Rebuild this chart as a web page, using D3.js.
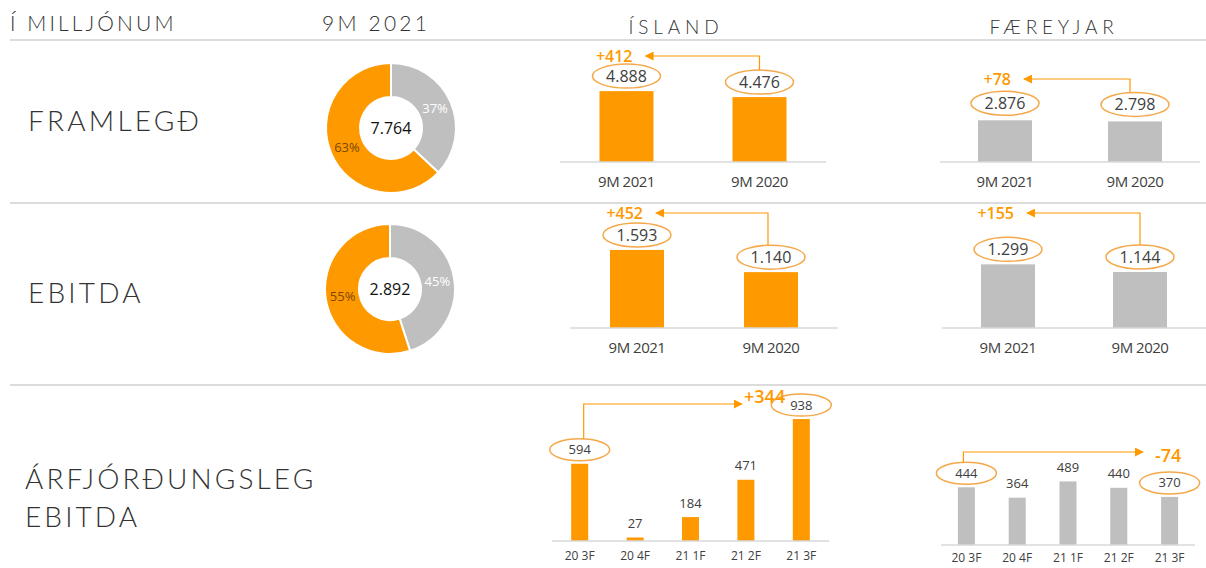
<!DOCTYPE html>
<html>
<head>
<meta charset="utf-8">
<script src="https://cdn.jsdelivr.net/npm/d3@7"></script>
<style>
  body { margin: 0; background: #fff; }
  text { font-family: "Open Sans", sans-serif; }
  .hdr { font-family: Lato, sans-serif; fill: #333; }
</style>
</head>
<body>
<script>
// values in millions ISK
var periods = ['9M 2021', '9M 2020'];
var framlegdIsland = [4888, 4476];
var framlegdFaereyjar = [2876, 2798];
var ebitdaIsland = [1593, 1140];
var ebitdaFaereyjar = [1299, 1144];

var quarters = ['20 3F', '20 4F', '21 1F', '21 2F', '21 3F'];
var quarterIsland = [594, 27, 184, 471, 938];
var quarterFaereyjar = [444, 364, 489, 440, 370];

var donutTotals = [7764, 2892];
var shareIsland = [63, 55];
var shareFaereyjar = [37, 45];

var deltaLabels = ['+412', '+78', '+452', '+155', '+344', '-74'];

var orange = '#ff9900', grey = '#bfbfbf', ring = '#f5a84a';

var width = 1206, height = 568;

var svg = d3.select('body')
    .append('svg')
    .attr('width', width)
    .attr('height', height);

var is = d3.formatLocale({decimal: ',', thousands: '.', grouping: [3], currency: ['', '']});
var fmt = is.format(',');

svg.append('defs').append('marker')
    .attr('id', 'arr')
    .attr('viewBox', '0 0 10 10')
    .attr('refX', 9).attr('refY', 5)
    .attr('markerWidth', 9).attr('markerHeight', 9)
    .attr('markerUnits', 'userSpaceOnUse')
    .attr('orient', 'auto')
    .append('path')
    .attr('d', 'M0,0L10,5L0,10Z')
    .attr('fill', orange);

// header + separators
[40, 203, 385].forEach(y => {
  svg.append('line')
    .attr('x1', 10).attr('x2', width).attr('y1', y).attr('y2', y)
    .attr('stroke', '#d0d0d0').attr('stroke-width', 1.5);
});

function hdr(t, x, y, size, spacing, anchor) {
  svg.append('text').attr('class', 'hdr')
    .attr('x', x).attr('y', y)
    .attr('font-size', size)
    .attr('font-weight', 300)
    .attr('letter-spacing', spacing)
    .attr('text-anchor', anchor || 'start')
    .text(t);
}
hdr('Í MILLJÓNUM', 10, 31, 21, 3.1);
hdr('9M 2021', 322, 31, 21, 3.2);
hdr('ÍSLAND', 676, 34, 19, 4.8, 'middle');
hdr('FÆREYJAR', 1054, 34, 19, 4.8, 'middle');
hdr('FRAMLEGÐ', 28, 131, 28, 3.2);
hdr('EBITDA', 28, 303, 28, 3.2);
hdr('ÁRFJÓRÐUNGSLEG', 25, 489, 28, 3.1);
hdr('EBITDA', 25, 527, 28, 3.1);

// donuts
var pie = d3.pie().sort(null).value(d => d);
var arc = d3.arc().innerRadius(31).outerRadius(65);

function donut(cx, cy, i) {
  var g = svg.append('g').attr('transform', `translate(${cx},${cy})`);
  var slices = pie([shareFaereyjar[i], shareIsland[i]]);
  g.selectAll('path').data(slices).join('path')
    .attr('d', arc)
    .attr('fill', (d, j) => j == 0 ? grey : orange)
    .attr('stroke', '#fff').attr('stroke-width', 2);
  g.selectAll('text.pct').data(slices).join('text')
    .attr('class', 'pct')
    .attr('transform', d => `translate(${arc.centroid(d)})`)
    .attr('dy', '0.35em')
    .attr('text-anchor', 'middle')
    .attr('font-size', 13)
    .attr('fill', (d, j) => j == 0 ? '#fff' : '#7a4700')
    .text(d => d.data + '%');
  g.append('text')
    .attr('text-anchor', 'middle').attr('dy', '0.35em')
    .attr('font-size', 16).attr('fill', '#111')
    .text(fmt(donutTotals[i]));
}
donut(391, 128, 0);
donut(390, 289, 1);

// bar panel helper
function panel(o) {
  var n = o.values.length;
  var step = (o.x1 - o.x0) / n;
  var pad = 1 - o.barW / step;
  var x = d3.scaleBand()
      .domain(o.cats)
      .range([o.x0, o.x1])
      .paddingInner(pad).paddingOuter(pad / 2);
  var y = d3.scaleLinear()
      .domain([0, o.max])
      .range([o.base, o.base - o.span]);

  var g = svg.append('g');

  g.selectAll('rect').data(o.values).join('rect')
    .attr('x', (d, i) => x(o.cats[i]))
    .attr('y', d => y(d))
    .attr('width', x.bandwidth())
    .attr('height', d => y(0) - y(d))
    .attr('fill', o.color);

  var axis = g.append('g')
    .attr('transform', `translate(0,${o.base})`)
    .call(d3.axisBottom(x).tickSize(0).tickPadding(o.tickPad));
  axis.select('.domain').attr('stroke', '#d9d9d9').attr('stroke-width', 1.5)
    .attr('d', `M${o.x0},0H${o.x1}`);
  axis.selectAll('text')
    .attr('font-family', '"Open Sans", sans-serif')
    .attr('font-size', o.tickSize).attr('fill', '#404040')
    .attr('letter-spacing', o.tickSpacing || 0);

  var cx = i => x(o.cats[i]) + x.bandwidth() / 2;
  var ly = i => y(o.values[i]) - o.lift;

  o.values.forEach((v, i) => {
    if (o.circled.indexOf(i) >= 0) {
      g.append('ellipse')
        .attr('cx', cx(i)).attr('cy', ly(i))
        .attr('rx', o.rx).attr('ry', o.ry)
        .attr('fill', '#fff').attr('stroke', ring).attr('stroke-width', 1.5);
    }
    g.append('text')
      .attr('x', cx(i)).attr('y', ly(i)).attr('dy', '0.35em')
      .attr('text-anchor', 'middle')
      .attr('font-size', o.valSize).attr('fill', '#404040')
      .text(fmt(v));
  });

  // change arrow between the circled labels
  var a = o.circled[0], b = o.circled[o.circled.length - 1];
  if (o.dir < 0) {
    var sx = cx(b) + o.stemOff, tip = cx(a) + 19;
    g.append('path')
      .attr('d', `M${sx},${ly(b) - o.ry}V${o.arrowY}H${tip}`)
      .attr('fill', 'none').attr('stroke', orange).attr('stroke-width', 1.2)
      .attr('marker-end', 'url(#arr)');
    g.append('text')
      .attr('x', tip - 13).attr('y', o.arrowY).attr('dy', '0.35em')
      .attr('text-anchor', 'end')
      .attr('font-size', o.deltaSize).attr('font-weight', 600).attr('fill', orange)
      .text(o.delta);
  } else {
    var sx2 = cx(a) + o.stemOff;
    g.append('path')
      .attr('d', `M${sx2},${ly(a) - o.ry}V${o.arrowY}H${o.tip}`)
      .attr('fill', 'none').attr('stroke', orange).attr('stroke-width', 1.2)
      .attr('marker-end', 'url(#arr)');
    g.append('text')
      .attr('x', o.tip + o.textGap).attr('y', o.arrowY + o.textDy)
      .attr('font-size', o.deltaSize).attr('font-weight', 600).attr('fill', orange)
      .text(o.delta);
  }
}

var pair = {cats: periods, barW: 54, rx: 34, ry: 12, lift: 15, valSize: 16, tickSize: 15,
  tickPad: 14, tickSpacing: -0.5, circled: [0, 1], dir: -1, deltaSize: 16};

panel(Object.assign({}, pair, {values: framlegdIsland, color: orange, x0: 560, x1: 826,
  base: 162, max: 5000, span: 72.5, arrowY: 56, stemOff: 0, delta: deltaLabels[0]}));
panel(Object.assign({}, pair, {values: framlegdFaereyjar, color: grey, x0: 940, x1: 1200,
  base: 162, max: 5000, span: 72.5, lift: 17, arrowY: 79, stemOff: -5, delta: deltaLabels[1]}));
panel(Object.assign({}, pair, {values: ebitdaIsland, color: orange, x0: 570, x1: 838,
  base: 328, max: 2000, span: 98, arrowY: 213, stemOff: -3, delta: deltaLabels[2]}));
panel(Object.assign({}, pair, {values: ebitdaFaereyjar, color: grey, x0: 942, x1: 1206,
  base: 328, max: 2000, span: 98, arrowY: 213, stemOff: 0, delta: deltaLabels[3]}));

var quarterly = {cats: quarters, barW: 17, rx: 30, ry: 11, lift: 14, valSize: 13, tickSize: 12,
  tickPad: 10, circled: [0, 4], dir: 1, deltaSize: 18};

panel(Object.assign({}, quarterly, {values: quarterIsland, color: orange, x0: 552, x1: 829,
  base: 541, max: 1000, span: 130, arrowY: 404, stemOff: 4, tip: 742, textGap: 2, textDy: -1,
  delta: deltaLabels[4]}));
panel(Object.assign({}, quarterly, {values: quarterFaereyjar, color: grey, x0: 941, x1: 1195,
  base: 545, max: 1000, span: 130, tickPad: 8, arrowY: 452, stemOff: -3, tip: 1143, textGap: 12,
  textDy: 10, delta: deltaLabels[5]}));
</script>
</body>
</html>
